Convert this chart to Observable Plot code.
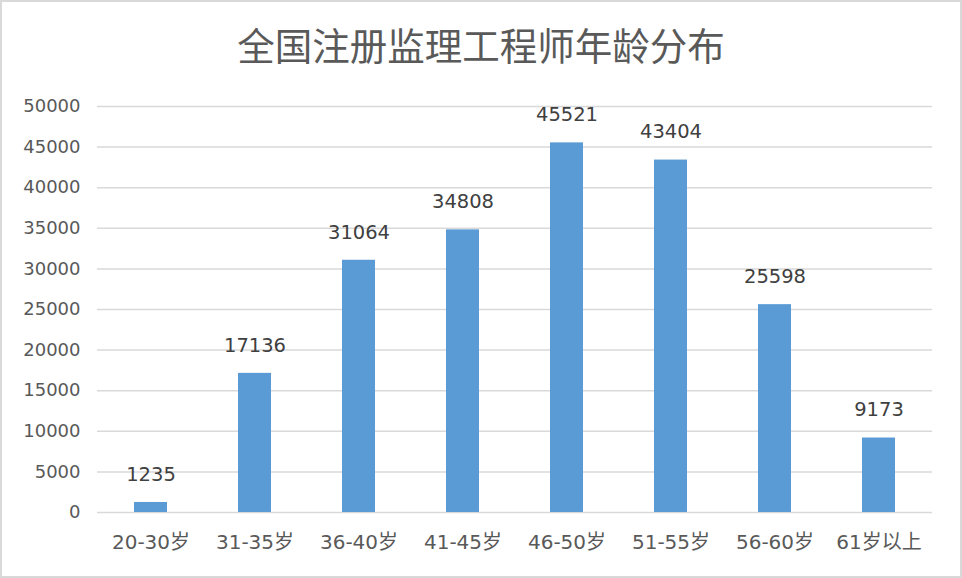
<!DOCTYPE html>
<html>
<head>
<meta charset="utf-8">
<script src="https://cdn.jsdelivr.net/npm/d3@7"></script>
<script src="https://cdn.jsdelivr.net/npm/@observablehq/plot@0.6"></script>
<style>
  html, body { margin: 0; padding: 0; background: #fff; }
  #frame { position: relative; width: 962px; height: 578px; box-sizing: border-box; border: 2px solid #d9d9d9; background: #fff; overflow: hidden; font-family: "Noto Sans CJK SC", "Noto Sans", sans-serif; }
  #title { position: absolute; left: 0; top: 0; width: 958px; height: 78px; line-height: 84px; text-align: center; font-size: 37.5px; color: #595959; }
  #chart { position: absolute; left: 0; top: 78px; }
</style>
</head>
<body>
<div id="frame">
  <div id="title">全国注册监理工程师年龄分布</div>
  <div id="chart"></div>
</div>
<script>
const categories = ["20-30岁", "31-35岁", "36-40岁", "41-45岁", "46-50岁", "51-55岁", "56-60岁", "61岁以上"];
const counts = [1235, 17136, 31064, 34808, 45521, 43404, 25598, 9173];
const yTicks = [0, 5000, 10000, 15000, 20000, 25000, 30000, 35000, 40000, 45000, 50000];

const data = categories.map((c, i) => ({category: c, value: counts[i]}));
const numFont = '"DejaVu Sans", "Noto Sans CJK SC", sans-serif';

const chart = Plot.plot({
  width: 958,
  height: 496,
  marginTop: 26,
  marginBottom: 64,
  marginLeft: 95,
  marginRight: 28,
  style: {fontFamily: numFont, background: "#fff", overflow: "visible"},
  x: {domain: categories, paddingInner: 0.684, paddingOuter: 0.342, label: null},
  y: {domain: [0, 50000], ticks: yTicks, label: null},
  marks: [
    Plot.gridY(yTicks, {stroke: "#d9d9d9", strokeOpacity: 1, strokeWidth: 1.5}),
    Plot.barY(data, {x: "category", y: "value", fill: "#5b9bd5"}),
    Plot.text(data, {x: "category", y: "value", text: d => String(d.value), dy: -28, fill: "#404040", fontSize: 19.5}),
    Plot.axisY(yTicks, {tickSize: 0, tickPadding: 17, fontSize: 18, color: "#595959", tickFormat: d => String(d), label: null}),
    Plot.axisX({tickSize: 0, tickPadding: 22, fontSize: 20, color: "#595959", label: null})
  ]
});
document.getElementById("chart").appendChild(chart);
</script>
</body>
</html>
